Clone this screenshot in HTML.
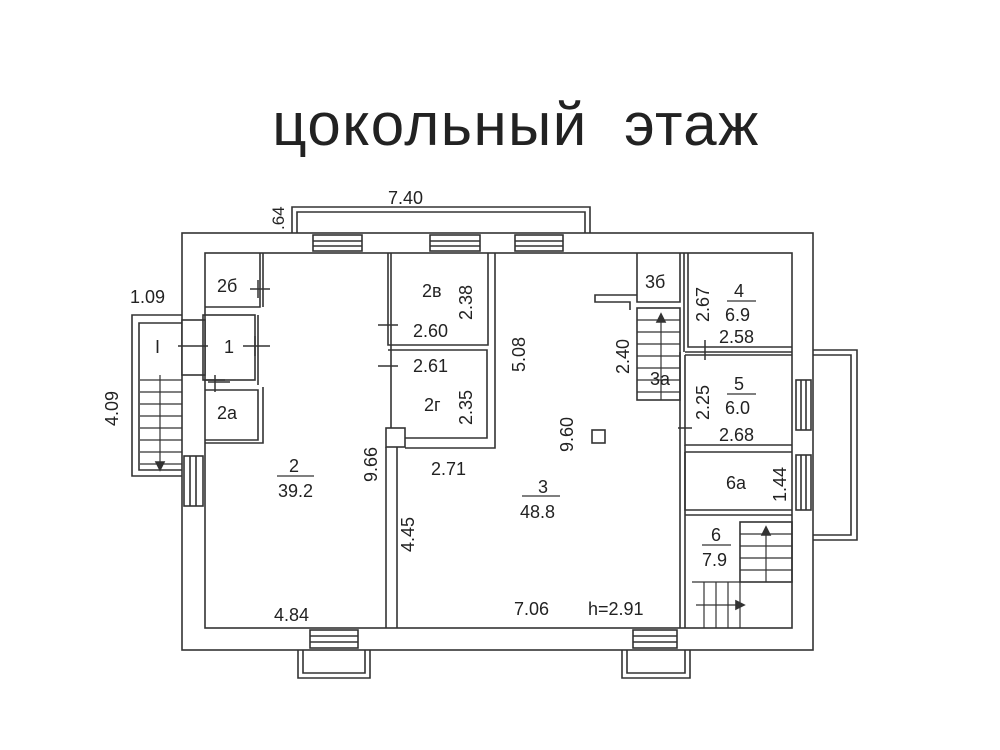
<!DOCTYPE html>
<html><head><meta charset="utf-8"><style>
body{margin:0;background:#fff;width:1000px;height:750px;overflow:hidden}
svg{display:block}
text{font-family:"Liberation Sans","DejaVu Sans",sans-serif;fill:#222}
</style></head><body>
<svg width="1000" height="750" viewBox="0 0 1000 750">
<text x="516" y="145" font-size="60" text-anchor="middle" fill="#333" letter-spacing="1.5">цокольный&#160;&#160;этаж</text>
<g fill="none" stroke="#333" stroke-width="1.6">
<path d="M292 233 V207 H590 V233"/><path d="M297 233 V212 H585 V233"/>
<rect x="182" y="233" width="631" height="417"/>
<rect x="205" y="253" width="587" height="375"/>
<g><rect x="313" y="235" width="49" height="16"/><line x1="313" y1="241" x2="362" y2="241"/><line x1="313" y1="246" x2="362" y2="246"/>
<rect x="430" y="235" width="50" height="16"/><line x1="430" y1="241" x2="480" y2="241"/><line x1="430" y1="246" x2="480" y2="246"/>
<rect x="515" y="235" width="48" height="16"/><line x1="515" y1="241" x2="563" y2="241"/><line x1="515" y1="246" x2="563" y2="246"/></g>
<path d="M182 315 H132 V476 H182"/><path d="M182 323 H139 V470 H182"/>
<rect x="182" y="320" width="23" height="55" fill="#fff"/>
<g stroke-width="1.2"><line x1="140" y1="380" x2="182" y2="380"/><line x1="140" y1="392" x2="182" y2="392"/><line x1="140" y1="404" x2="182" y2="404"/><line x1="140" y1="416" x2="182" y2="416"/><line x1="140" y1="428" x2="182" y2="428"/><line x1="140" y1="440" x2="182" y2="440"/><line x1="140" y1="452" x2="182" y2="452"/><line x1="140" y1="464" x2="182" y2="464"/><line x1="160" y1="375" x2="160" y2="468"/></g>
<path d="M156 462 L160 470 L164 462 Z" fill="#333"/>
<rect x="184" y="456" width="19" height="50"/><line x1="190" y1="456" x2="190" y2="506"/><line x1="196" y1="456" x2="196" y2="506"/>
<path d="M813 350 H857 V540 H813"/><path d="M813 355 H851 V535 H813"/>
<rect x="796" y="380" width="15" height="50"/><line x1="801" y1="380" x2="801" y2="430"/><line x1="806" y1="380" x2="806" y2="430"/>
<rect x="796" y="455" width="15" height="55"/><line x1="801" y1="455" x2="801" y2="510"/><line x1="806" y1="455" x2="806" y2="510"/>
<path d="M298 650 V678 H370 V650"/><path d="M303 650 V673 H365 V650"/>
<path d="M622 650 V678 H690 V650"/><path d="M627 650 V673 H685 V650"/>
<rect x="310" y="630" width="48" height="18"/><line x1="310" y1="636" x2="358" y2="636"/><line x1="310" y1="642" x2="358" y2="642"/>
<rect x="633" y="630" width="44" height="18"/><line x1="633" y1="636" x2="677" y2="636"/><line x1="633" y1="642" x2="677" y2="642"/>
<path d="M205 307 H260 V253"/><line x1="263" y1="253" x2="263" y2="307"/>
<rect x="203" y="315" width="52" height="65"/><line x1="205" y1="380" x2="225" y2="380"/>
<path d="M205 390 H258 V440 H205"/><path d="M263 387 V443 H205"/>
<line x1="258" y1="315" x2="258" y2="385"/>
<path d="M388 253 V345 H488 V253"/><path d="M388 350 H487 V438 H405"/>
<path d="M495 253 V448 H405"/><line x1="391" y1="253" x2="391" y2="428"/>
<rect x="386" y="428" width="19" height="19"/>
<line x1="386" y1="447" x2="386" y2="628"/><line x1="397" y1="447" x2="397" y2="628"/>
<path d="M637 253 V302 H680 V253"/>
<path d="M637 295 H595 V302 H630 V310"/>
<rect x="637" y="308" width="43" height="92"/>
<g stroke-width="1.2"><line x1="637" y1="320" x2="680" y2="320"/><line x1="637" y1="332" x2="680" y2="332"/><line x1="637" y1="344" x2="680" y2="344"/><line x1="637" y1="356" x2="680" y2="356"/><line x1="637" y1="368" x2="680" y2="368"/><line x1="637" y1="380" x2="680" y2="380"/><line x1="637" y1="392" x2="680" y2="392"/><line x1="661" y1="318" x2="661" y2="400"/></g>
<path d="M657 322 L661 314 L665 322 Z" fill="#333"/>
<path d="M688 253 V347 H792"/><line x1="684" y1="253" x2="684" y2="352"/>
<path d="M680 352 V628"/><path d="M685 355 H792 M685 355 V445 H792"/><line x1="685" y1="352" x2="792" y2="352"/>
<path d="M685 452 H792 M685 452 V510 H792 M685 515 H792"/><line x1="685" y1="445" x2="685" y2="628"/>
<rect x="740" y="522" width="52" height="60"/><g stroke-width="1.2"><line x1="740" y1="534" x2="792" y2="534"/><line x1="740" y1="546" x2="792" y2="546"/><line x1="740" y1="558" x2="792" y2="558"/><line x1="740" y1="570" x2="792" y2="570"/><line x1="766" y1="528" x2="766" y2="582"/>
<path d="M692 582 H740 V628"/><line x1="704" y1="582" x2="704" y2="628"/><line x1="716" y1="582" x2="716" y2="628"/><line x1="728" y1="582" x2="728" y2="628"/><line x1="696" y1="605" x2="738" y2="605"/></g>
<path d="M762 535 L766 527 L770 535 Z" fill="#333"/><path d="M736 601 L744 605 L736 609 Z" fill="#333"/>
<rect x="592" y="430" width="13" height="13"/>
<g stroke-width="1.5"><line x1="250" y1="289" x2="270" y2="289"/><line x1="258" y1="280" x2="258" y2="298"/>
<line x1="178" y1="346" x2="208" y2="346"/><line x1="243" y1="346" x2="270" y2="346"/><line x1="255" y1="336" x2="255" y2="356"/>
<line x1="215" y1="375" x2="215" y2="392"/><line x1="208" y1="382" x2="230" y2="382"/>
<line x1="378" y1="325" x2="398" y2="325"/><line x1="378" y1="366" x2="398" y2="366"/>
<line x1="705" y1="340" x2="705" y2="360"/><line x1="678" y1="428" x2="692" y2="428"/></g>
</g>
<g font-size="18">
<text x="388" y="204">7.40</text>
<text x="284" y="230" transform="rotate(-90 284 230)" font-size="17">.64</text>
<text x="130" y="303">1.09</text>
<text x="118" y="426" transform="rotate(-90 118 426)">4.09</text>
<text x="155" y="353">I</text>
<text x="224" y="353">1</text>
<text x="217" y="292">2б</text>
<text x="217" y="419">2а</text>
<text x="422" y="297">2в</text>
<text x="472" y="320" transform="rotate(-90 472 320)">2.38</text>
<text x="413" y="337">2.60</text>
<text x="413" y="372">2.61</text>
<text x="424" y="411">2г</text>
<text x="472" y="425" transform="rotate(-90 472 425)">2.35</text>
<text x="525" y="372" transform="rotate(-90 525 372)">5.08</text>
<text x="431" y="475">2.71</text>
<text x="289" y="472">2</text>
<line x1="277" y1="476" x2="314" y2="476" stroke="#333" stroke-width="1.2"/>
<text x="278" y="497">39.2</text>
<text x="377" y="482" transform="rotate(-90 377 482)">9.66</text>
<text x="414" y="552" transform="rotate(-90 414 552)">4.45</text>
<text x="538" y="493">3</text>
<line x1="522" y1="496" x2="560" y2="496" stroke="#333" stroke-width="1.2"/>
<text x="520" y="518">48.8</text>
<text x="573" y="452" transform="rotate(-90 573 452)">9.60</text>
<text x="629" y="374" transform="rotate(-90 629 374)">2.40</text>
<text x="650" y="385">3а</text>
<text x="645" y="288">3б</text>
<text x="709" y="322" transform="rotate(-90 709 322)">2.67</text>
<text x="734" y="297">4</text>
<line x1="727" y1="301" x2="756" y2="301" stroke="#333" stroke-width="1.2"/>
<text x="725" y="321">6.9</text>
<text x="719" y="343">2.58</text>
<text x="709" y="420" transform="rotate(-90 709 420)">2.25</text>
<text x="734" y="390">5</text>
<line x1="727" y1="394" x2="756" y2="394" stroke="#333" stroke-width="1.2"/>
<text x="725" y="414">6.0</text>
<text x="719" y="441">2.68</text>
<text x="726" y="489">6а</text>
<text x="786" y="502" transform="rotate(-90 786 502)">1.44</text>
<text x="711" y="541">6</text>
<line x1="702" y1="545" x2="731" y2="545" stroke="#333" stroke-width="1.2"/>
<text x="702" y="566">7.9</text>
<text x="274" y="621">4.84</text>
<text x="514" y="615">7.06</text>
<text x="588" y="615">h=2.91</text>
</g>
</svg>
</body></html>
